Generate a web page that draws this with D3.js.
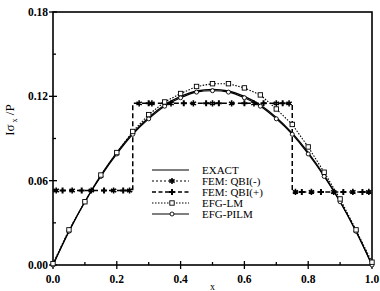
<!DOCTYPE html>
<html>
<head>
<meta charset="utf-8">
<script src="https://cdn.jsdelivr.net/npm/d3@7"></script>
<style>
  body { margin: 0; background: #fff; }
  svg { display: block; font-family: "Liberation Serif", "DejaVu Serif", serif; }
</style>
</head>
<body>
<div id="chart"></div>
<script>
// node positions (x / L) for the EFG curves
const xNodes = [0, 0.05, 0.1, 0.15, 0.2, 0.25, 0.3, 0.35, 0.4, 0.45, 0.5,
  0.55, 0.6, 0.65, 0.7, 0.75, 0.8, 0.85, 0.9, 0.95, 1.0];
const exactVals = [0, 0.0238, 0.045, 0.0638, 0.08, 0.0938, 0.105, 0.1138, 0.12, 0.1238, 0.125,
  0.1238, 0.12, 0.1138, 0.105, 0.0938, 0.08, 0.0638, 0.045, 0.0238, 0];
const lmVals = [0.001, 0.025, 0.045, 0.064, 0.080, 0.095, 0.107, 0.116, 0.122, 0.127, 0.129,
  0.129, 0.126, 0.121, 0.111, 0.100, 0.084, 0.066, 0.047, 0.025, 0.002];
const pilmVals = [0, 0.024, 0.045, 0.063, 0.079, 0.093, 0.104, 0.113, 0.119, 0.123, 0.124,
  0.123, 0.119, 0.113, 0.104, 0.093, 0.079, 0.063, 0.045, 0.024, 0];

// FEM step outline
const femStepX = [0, 0.25, 0.25, 0.75, 0.75, 1.0];
const femStepY = [0.053, 0.053, 0.115, 0.115, 0.052, 0.052];
// FEM marker points
const femMinusX = [0.01, 0.06, 0.12, 0.19, 0.24, 0.27, 0.31, 0.37, 0.44, 0.5, 0.56, 0.63, 0.7, 0.74,
  0.76, 0.81, 0.88, 0.94, 0.99];
const femMinusY = [0.053, 0.053, 0.053, 0.053, 0.053, 0.115, 0.115, 0.115, 0.115, 0.115, 0.115, 0.115, 0.115, 0.115,
  0.052, 0.052, 0.052, 0.052, 0.052];
const femPlusX = [0.03, 0.09, 0.16, 0.22, 0.3, 0.35, 0.41, 0.48, 0.52, 0.6, 0.66, 0.72,
  0.78, 0.84, 0.91, 0.97];
const femPlusY = [0.053, 0.053, 0.053, 0.053, 0.115, 0.115, 0.115, 0.115, 0.115, 0.115, 0.115, 0.115,
  0.052, 0.052, 0.052, 0.052];

const xTicks = [0, 0.2, 0.4, 0.6, 0.8, 1.0];
const xMinor = [0.1, 0.3, 0.5, 0.7, 0.9];
const yTicks = [0, 0.06, 0.12, 0.18];
const yMinor = [0.03, 0.09, 0.15];

const legendNames = ["EXACT", "FEM: QBI(-)", "FEM: QBI(+)", "EFG-LM", "EFG-PILM"];

const width = 380, height = 291;
const m = { left: 53, right: 8, top: 12, bottom: 26 };

const svg = d3.select("#chart").append("svg")
  .attr("width", width).attr("height", height);

const x = d3.scaleLinear().domain([0, 1]).range([m.left, width - m.right]);
const y = d3.scaleLinear().domain([0, 0.18]).range([height - m.bottom, m.top]);

// frame
svg.append("rect")
  .attr("x", x(0)).attr("y", y(0.18))
  .attr("width", x(1) - x(0)).attr("height", y(0) - y(0.18))
  .attr("fill", "none").attr("stroke", "#000").attr("stroke-width", 1.6);

// ticks
const g = svg.append("g").attr("stroke", "#000").attr("stroke-width", 1.3);
xTicks.forEach(v => g.append("line").attr("x1", x(v)).attr("x2", x(v))
  .attr("y1", y(0) - 4).attr("y2", y(0) + 4));
xMinor.forEach(v => g.append("line").attr("x1", x(v)).attr("x2", x(v))
  .attr("y1", y(0) - 3).attr("y2", y(0)));
yTicks.forEach(v => g.append("line").attr("y1", y(v)).attr("y2", y(v))
  .attr("x1", x(0) - 4).attr("x2", x(0) + 4));
yMinor.forEach(v => g.append("line").attr("y1", y(v)).attr("y2", y(v))
  .attr("x1", x(0)).attr("x2", x(0) + 3));

// tick labels
svg.selectAll(".xl").data(xTicks).enter().append("text")
  .attr("x", d => x(d)).attr("y", y(0) + 18)
  .attr("text-anchor", "middle").attr("font-size", 11.5).attr("font-weight", "bold")
  .text(d => d3.format(".1f")(d));
svg.selectAll(".yl").data(yTicks).enter().append("text")
  .attr("x", x(0) - 5).attr("y", d => y(d) + 4)
  .attr("text-anchor", "end").attr("font-size", 11.5).attr("font-weight", "bold")
  .text(d => d3.format(".2f")(d));

// axis titles
const yt = svg.append("text")
  .attr("transform", `translate(14,120) rotate(-90)`)
  .attr("text-anchor", "middle").attr("font-size", 13);
yt.append("tspan").text("Iσ");
yt.append("tspan").attr("font-size", 8).attr("dy", 3).text(" x");
yt.append("tspan").attr("dy", -3).text(" /P");
svg.append("text").attr("x", x(0.5)).attr("y", height - 1)
  .attr("text-anchor", "middle").attr("font-size", 10).text("x");

// lines
const line = d3.line().x(d => x(d[0])).y(d => y(d[1]));
const smooth = d3.line().x(d => x(d[0])).y(d => y(d[1])).curve(d3.curveCatmullRom);
const plot = svg.append("g").attr("fill", "none").attr("stroke", "#000");

plot.append("path").attr("d", line(d3.zip(femStepX, femStepY)))
  .attr("stroke-width", 1.5).attr("stroke-dasharray", "5,3");
plot.append("path").attr("d", smooth(d3.zip(xNodes, exactVals))).attr("stroke-width", 1.3);
plot.append("path").attr("d", smooth(d3.zip(xNodes, pilmVals))).attr("stroke-width", 1.1);
plot.append("path").attr("d", line(d3.zip(xNodes, lmVals)))
  .attr("stroke-width", 1.1).attr("stroke-dasharray", "1.5,1.5");

// markers
const star = d3.symbol().type(d3.symbolAsterisk).size(26);
const plus = d3.symbol().type(d3.symbolCross).size(20);
function drawStar(sel) { sel.attr("d", star).attr("fill", "#000").attr("stroke", "#000").attr("stroke-width", 1.6); }
function drawPlus(sel) { sel.attr("d", plus).attr("fill", "#000").attr("stroke", "none"); }
function drawSquare(sel) { sel.attr("x", -2.2).attr("y", -2.2).attr("width", 4.4).attr("height", 4.4)
  .attr("fill", "#fff").attr("stroke", "#000").attr("stroke-width", 0.9); }
function drawCircle(sel) { sel.attr("r", 2).attr("fill", "#fff").attr("stroke", "#000").attr("stroke-width", 0.9); }

svg.append("g").selectAll("path").data(d3.zip(femMinusX, femMinusY)).enter().append("path")
  .attr("transform", d => `translate(${x(d[0])},${y(d[1])})`).call(drawStar);
svg.append("g").selectAll("path").data(d3.zip(femPlusX, femPlusY)).enter().append("path")
  .attr("transform", d => `translate(${x(d[0])},${y(d[1])})`).call(drawPlus);
svg.append("g").selectAll("circle").data(d3.zip(xNodes, pilmVals)).enter().append("circle")
  .attr("cx", d => x(d[0])).attr("cy", d => y(d[1])).call(drawCircle);
svg.append("g").selectAll("rect").data(d3.zip(xNodes, lmVals)).enter().append("g")
  .attr("transform", d => `translate(${x(d[0])},${y(d[1])})`)
  .append("rect").call(drawSquare);

// legend
const lg = svg.append("g").attr("transform", "translate(152,170)");
const rowH = 11;
const styles = [
  { dash: null, w: 1.2 },
  { dash: "2,2", w: 1.1, mark: "star" },
  { dash: "4,2.5", w: 1.4, mark: "plus" },
  { dash: "1.5,1.5", w: 1.1, mark: "square" },
  { dash: null, w: 1.1, mark: "circle" }
];
legendNames.forEach((name, i) => {
  const row = lg.append("g").attr("transform", `translate(0,${i * rowH})`);
  row.append("line").attr("x1", 0).attr("x2", 37).attr("y1", 0).attr("y2", 0)
    .attr("stroke", "#000").attr("stroke-width", styles[i].w)
    .attr("stroke-dasharray", styles[i].dash);
  const mk = styles[i].mark;
  if (mk === "star") row.append("path").attr("transform", "translate(20,0)").call(drawStar);
  if (mk === "plus") row.append("path").attr("transform", "translate(20,0)").call(drawPlus);
  if (mk === "square") row.append("g").attr("transform", "translate(20,0)").append("rect").call(drawSquare);
  if (mk === "circle") row.append("circle").attr("cx", 20).attr("cy", 0).call(drawCircle);
  row.append("text").attr("x", 50).attr("y", 4).attr("font-size", 11).text(name);
});
</script>
</body>
</html>
